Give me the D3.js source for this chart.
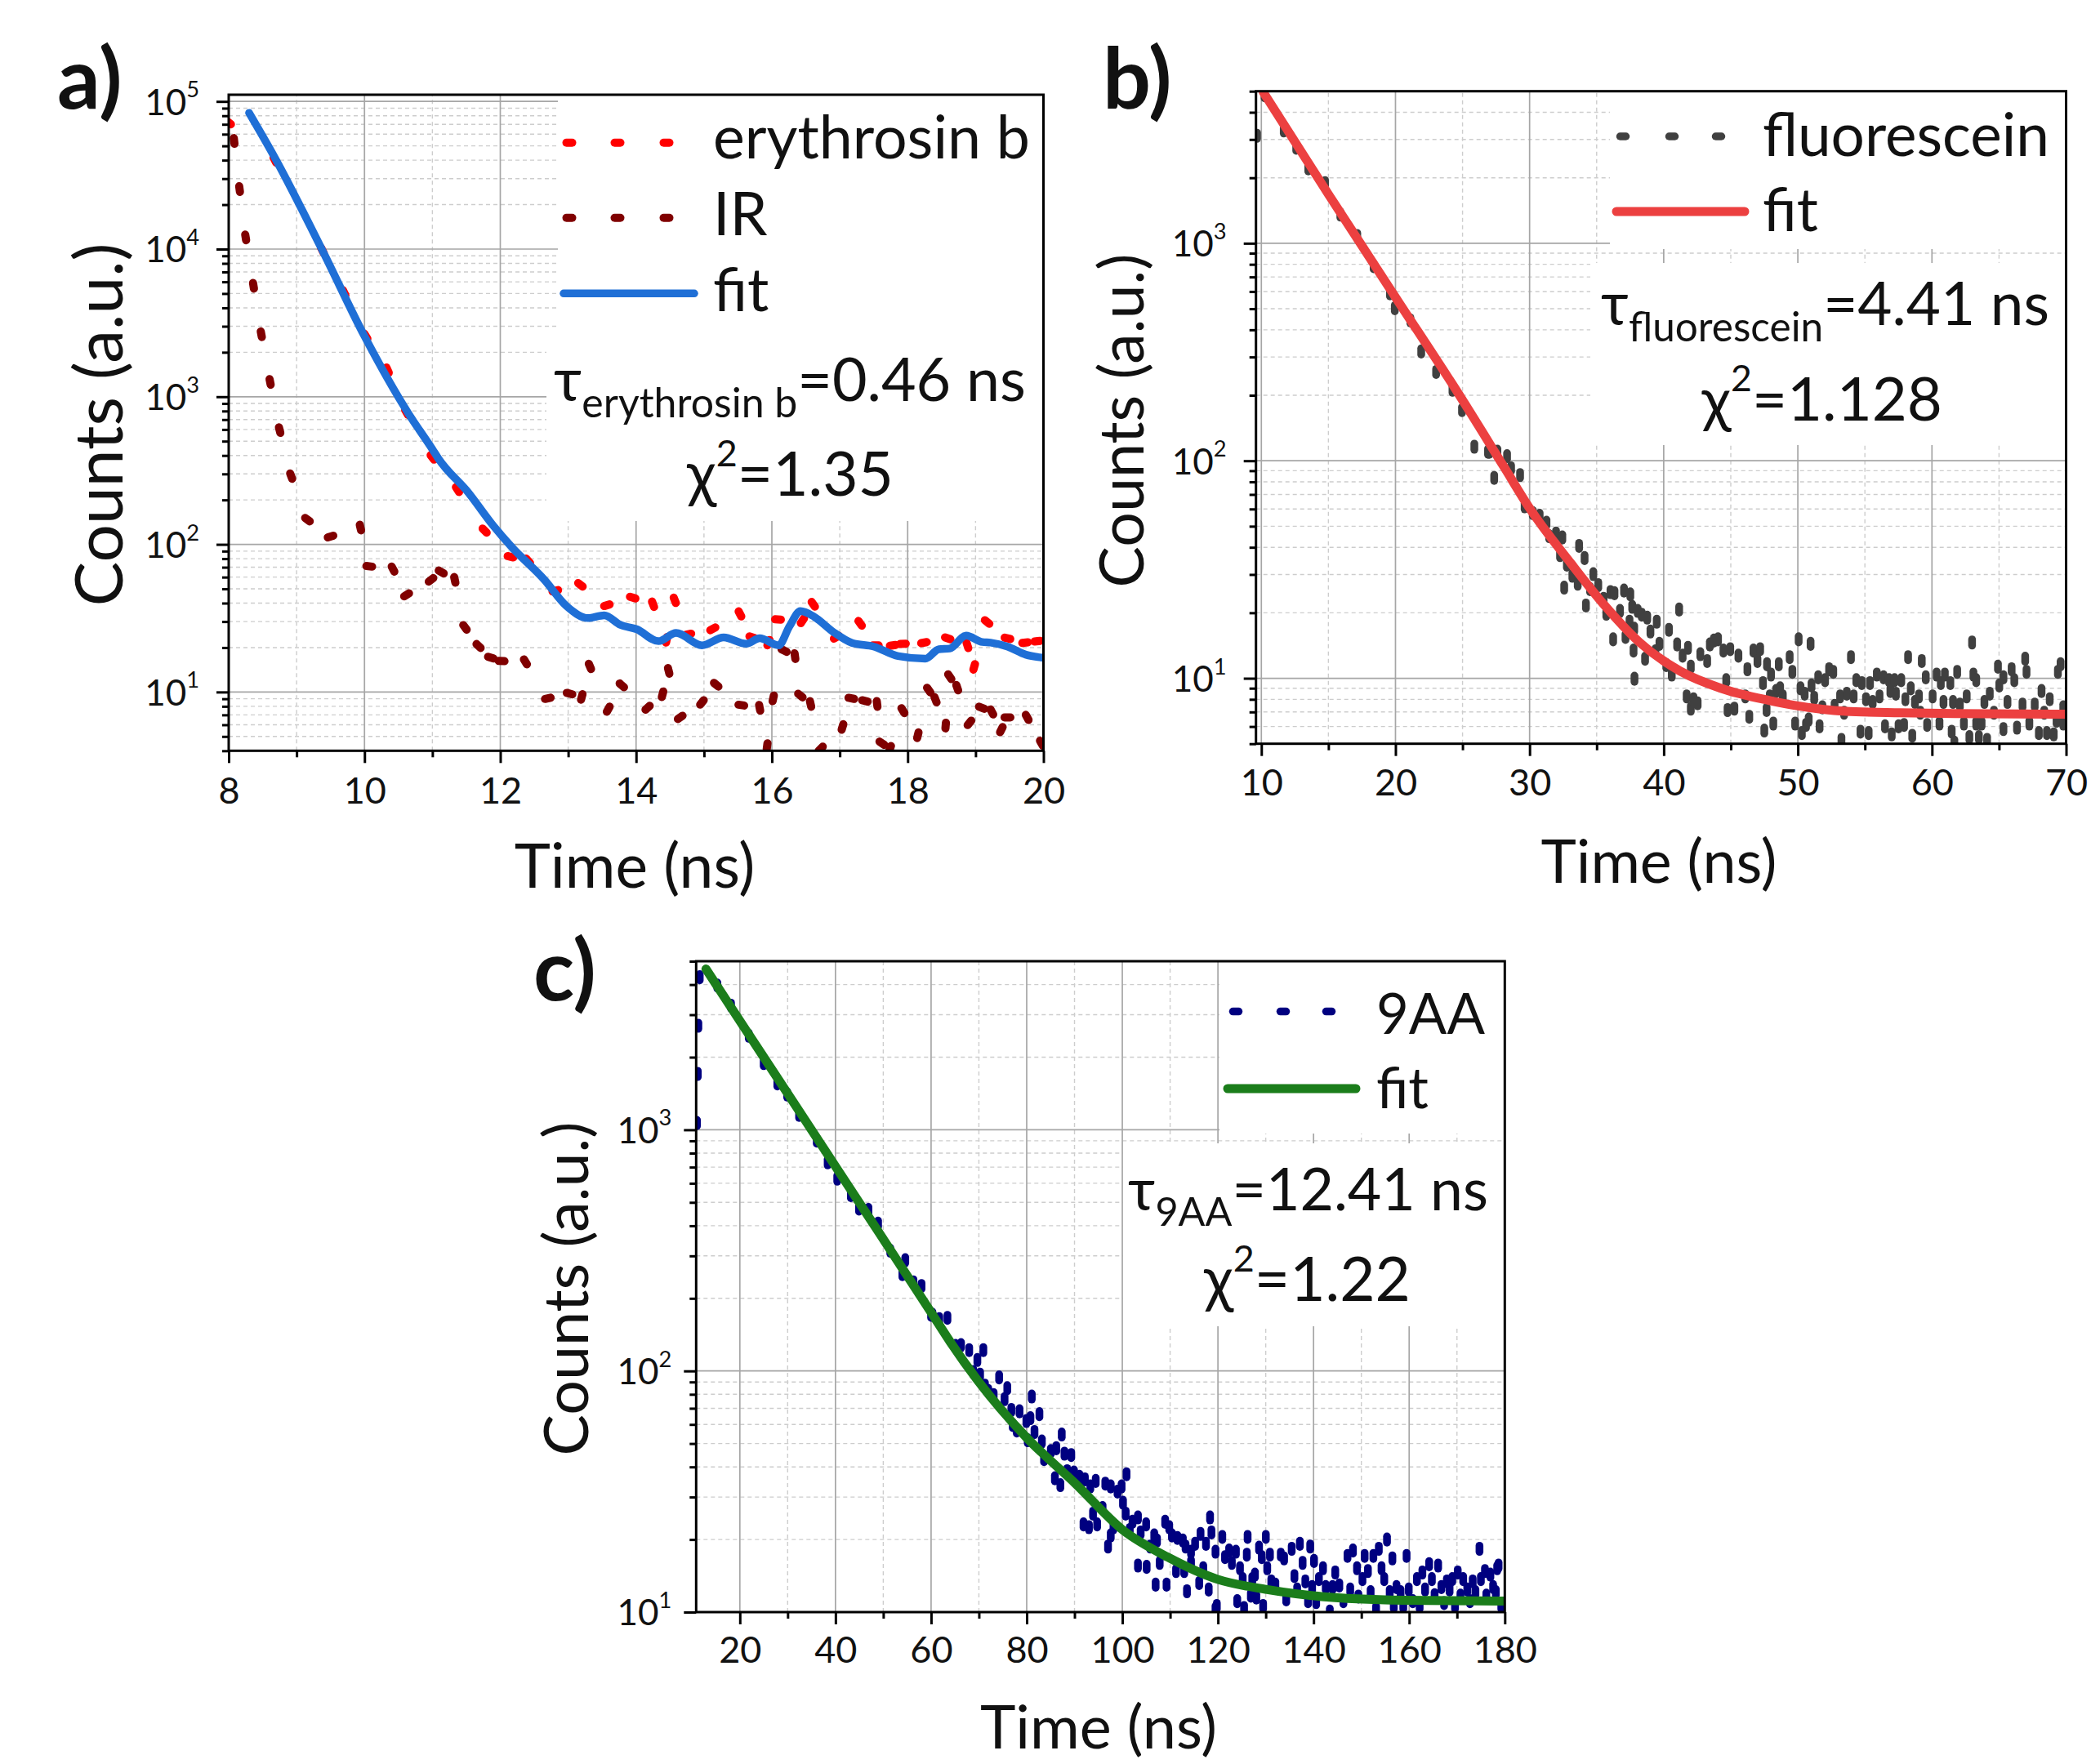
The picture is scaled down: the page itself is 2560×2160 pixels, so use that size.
<!DOCTYPE html>
<html><head><meta charset="utf-8">
<script src="https://cdn.jsdelivr.net/npm/d3@7"></script>
<style>
html,body{margin:0;background:#fff;}
svg{display:block;background:#fff;}
text{font-family:Lato,"Noto Sans","DejaVu Sans",sans-serif;fill:#111;}
</style></head><body>
<svg id="chart" width="2560" height="2160"></svg>
<script>
// ===================== DATA =====================
// Panel a) erythrosin b, IR and fit  [time (ns), counts]
const erythrosinData = [[8.0,72000],[8.68,40000],[9.38,9800],[9.70,5070],[10.02,2570],[10.34,1515],[10.62,783],[11.0,388],[11.37,235],[11.77,124],[12.15,82.4],[12.41,77.4],[12.81,48.5],[13.18,53.2],[13.57,38.7],[13.95,43.6],[14.25,39.3],[14.45,22.6],[14.57,41.8],[14.77,24.6],[15.13,26.8],[15.53,33.8],[15.71,23.5],[15.95,21.6],[16.09,31.0],[16.45,30.4],[16.61,39.3],[16.95,23.5],[17.30,29.2],[17.53,20.7],[17.78,20.7],[17.93,21.2],[18.24,21.6],[18.59,23.1],[18.88,20.7],[18.98,14.8],[19.17,29.8],[19.47,23.1],[19.73,21.6],[19.91,22.1]];
const irData = [[8.08,54000],[8.16,25500],[8.25,12000],[8.365,5640],[8.48,2650],[8.61,1260],[8.75,594],[8.92,290],[9.16,147],[9.50,113],[9.94,130],[10.07,71],[10.42,68],[10.62,45.5],[10.98,57.5],[11.13,65],[11.33,57.5],[11.48,27.4],[11.68,20.5],[11.86,17.1],[12.02,16.2],[12.37,16.0],[12.70,9.06],[13.02,9.75],[13.20,9.26],[13.32,14.9],[13.59,7.65],[13.79,11.1],[14.17,7.82],[14.39,9.66],[14.48,13.9],[14.65,6.73],[14.97,8.5],[15.18,11.2],[15.55,8.15],[15.82,7.82],[15.93,4.3],[16.02,9.06],[16.18,19.1],[16.34,17.5],[16.42,9.46],[16.57,8.3],[16.72,4.13],[17.04,5.8],[17.17,9.06],[17.37,8.7],[17.55,8.3],[17.62,4.5],[17.74,4.13],[17.93,7.48],[18.15,5.1],[18.31,10.3],[18.41,8.87],[18.56,5.93],[18.62,12.7],[18.73,10.7],[18.91,6.18],[19.09,7.82],[19.24,7.33],[19.38,5.56],[19.47,6.73],[19.76,6.73],[19.97,4.5]];
const fitAData = [[8.30,83700],[8.68,41500],[9.38,9800],[10.0,2570],[10.65,766],[11.0,441],[11.09,380],[11.53,224],[11.89,135],[12.17,95.7],[12.65,57.5],[12.97,38.4],[13.29,31.7],[13.53,33.1],[13.77,28.5],[14.01,26.6],[14.33,22.1],[14.59,25.1],[14.97,20.7],[15.29,23.4],[15.62,21.2],[15.82,23.1],[16.10,20.7],[16.26,27.9],[16.42,35.3],[16.62,32.4],[16.90,25.6],[17.18,21.5],[17.50,20.3],[17.86,17.5],[18.26,16.8],[18.46,19.5],[18.62,19.7],[18.86,24.1],[19.10,21.8],[19.22,21.6],[19.47,20.3],[19.74,17.9],[19.98,17.1]];

// Panel b) fluorescein and fit
const fluoresceinData = [[9.68,3120],[10.24,4790],[11.67,3300],[12.6,2750],[13.5,2210],[14.75,1890],[15.89,1355],[17.15,1080],[18.37,785],[19.59,589],[19.95,503],[21.11,442],[21.92,318],[23.03,256],[24.25,212],[24.96,171],[25.88,116],[26.9,110],[27.0,110],[27.36,83.4],[27.6,110],[28.32,105],[28.62,92.3],[29.29,85.9],[29.63,61.7],[30.24,57.4],[30.75,55.8],[31.26,51.9],[31.46,45.0],[31.97,46.3],[32.27,36.8],[32.44,44.4],[32.58,26.1],[32.78,33.3],[33.19,29.6],[33.59,27.2],[33.69,40.6],[34.10,35.7],[34.20,21.6],[34.51,25.7],[34.75,30.1],[35.12,26.8],[35.52,23.2],[35.72,19.8],[36.03,24.9],[36.23,15.1],[36.33,24.6],[36.74,20.4],[37.04,25.3],[37.15,15.5],[37.45,18.2],[37.51,24.3],[37.65,21.3],[37.75,13.4],[37.80,16.9],[37.82,9.95],[38.06,20.4],[38.36,19.6],[38.61,12.3],[38.77,19.0],[39.01,16.4],[39.38,13.3],[39.48,18.2],[39.68,14.4],[40.19,11.5],[40.39,16.7],[40.60,10.4],[41.00,14.3],[41.15,20.7],[41.41,12.7],[41.71,8.25],[41.81,13.8],[42.02,11.3],[42.02,7.25],[42.22,8.01],[42.53,7.67],[42.73,12.9],[43.24,12.0],[43.44,14.3],[43.74,14.9],[44.05,15.1],[44.45,13.4],[44.66,9.8],[44.76,7.14],[44.96,13.6],[45.27,7.25],[45.57,12.7],[46.08,8.25],[46.24,11.0],[46.38,6.65],[46.69,13.4],[46.99,12.0],[47.19,13.6],[47.40,9.5],[47.50,5.75],[47.67,7.15],[47.70,11.6],[47.91,8.25],[48.0,10.4],[48.17,6.19],[48.38,8.74],[48.58,11.6],[48.68,8.99],[48.88,8.25],[49.39,12.5],[49.59,10.7],[49.80,6.19],[50.06,15.1],[50.20,8.99],[50.30,5.6],[50.51,8.49],[50.61,6.1],[50.81,6.46],[50.95,14.4],[51.02,9.26],[51.22,8.13],[51.52,10.1],[51.62,6.01],[51.83,7.35],[52.03,9.8],[52.33,11.0],[52.64,10.7],[52.74,7.46],[53.15,8.25],[53.25,5.21],[53.45,6.94],[53.65,8.49],[53.96,12.5],[54.16,8.25],[54.36,9.8],[54.67,5.68],[54.77,9.5],[55.08,8.01],[55.28,5.6],[55.38,9.5],[55.58,7.78],[55.89,10.4],[56.09,8.25],[56.39,10.1],[56.50,6.01],[56.80,9.8],[56.90,8.74],[57.00,5.52],[57.21,9.8],[57.31,8.49],[57.51,6.01],[57.71,9.8],[57.92,6.1],[58.02,8.01],[58.22,12.5],[58.42,8.99],[58.53,5.44],[58.73,7.78],[59.03,8.25],[59.13,6.94],[59.24,12.0],[59.54,10.1],[59.64,6.1],[60.05,8.25],[60.35,10.4],[60.56,6.19],[60.66,9.5],[60.86,7.78],[60.96,10.4],[61.37,9.5],[61.47,5.68],[61.57,7.78],[61.67,5.06],[61.88,10.7],[62.08,7.57],[62.38,6.19],[62.59,8.25],[62.79,5.36],[62.99,14.6],[63.09,10.4],[63.30,9.8],[63.30,6.19],[63.50,5.36],[63.70,6.19],[63.91,7.78],[64.11,5.21],[64.31,8.49],[64.62,6.94],[64.92,11.3],[65.02,9.26],[65.33,10.1],[65.33,5.84],[65.63,7.78],[65.94,11.0],[66.14,9.8],[66.34,5.93],[66.75,7.57],[66.95,12.3],[67.05,10.7],[67.26,6.19],[67.66,7.57],[67.97,5.6],[68.17,8.74],[68.37,6.94],[68.57,5.6],[68.78,8.01],[69.08,5.52],[69.29,6.37],[69.39,10.7],[69.59,11.6],[69.79,7.35],[69.79,6.19]];
const fitBData = [[10.15,4940],[15,1680],[20,565],[25,190],[28.1,93.5],[30.04,60],[33.09,33.7],[35.52,21.9],[38.16,14.7],[41.21,10.8],[44.25,9.0],[47.9,7.9],[50,7.46],[53.55,7.05],[57.61,6.94],[61.67,6.88],[69.79,6.84],[70,6.84]];

// Panel c) 9AA and fit
const aaData = [[11.03,1067],[11.2,1705],[11.32,2700],[11.61,4290],[15.3,3960],[18.15,3270],[21.86,2455],[24.99,1890],[27.84,1557],[29.9,1400],[32.39,1153],[36.09,902],[38.37,733],[40.37,627],[43.22,536],[44.93,471],[46.9,465],[48.91,408],[51.47,315],[54.0,252],[54.6,288],[56.31,233],[58.0,225],[60.0,171],[60.28,171],[61.71,164],[63.42,166],[65.12,127],[66.26,128],[67.97,122],[68.82,99],[69.68,111],[70.25,96.5],[70.93,122],[71.27,86.9],[71.96,82.6],[73.09,79.4],[74.23,94],[75.37,76.4],[75.94,84.8],[76.79,68.9],[77.08,59.7],[77.93,56.6],[78.50,68],[79.93,62.0],[80.21,51.6],[80.78,63.7],[81.06,78.3],[81.63,55.8],[82.66,66.2],[83.17,51.0],[83.63,43.1],[85.05,46.5],[85.90,35.9],[86.19,47.8],[87.04,33.6],[87.33,54.5],[87.90,45.4],[88.47,38.4],[89.32,44.8],[89.89,37.9],[91.03,36.4],[91.88,23.1],[92.17,35.5],[93.02,22.5],[93.31,33.2],[93.87,25.6],[94.44,35.0],[94.73,23.1],[95.87,27.0],[96.44,34.1],[97.01,18.7],[97.58,33.2],[97.58,20.8],[98.15,22.5],[99.0,31.6],[99.85,33.2],[100.14,28.4],[100.71,25.6],[100.88,37.3],[101.56,21.9],[102.13,23.7],[103.27,24.7],[103.27,15.6],[103.84,21.4],[104.98,23.1],[105.09,15.4],[105.83,18.7],[106.68,20.8],[106.97,13.0],[107.25,19.8],[107.82,16.0],[108.96,23.7],[109.25,13.0],[109.81,22.5],[110.38,20.8],[111.24,14.8],[111.52,20.3],[112.66,19.8],[112.95,14.8],[113.23,18.7],[113.52,12.2],[114.37,17.8],[114.37,16.0],[115.22,19.2],[116.08,13.2],[116.36,21.1],[116.93,15.2],[117.50,19.2],[118.07,12.4],[118.35,24.7],[118.64,21.4],[119.49,10.3],[119.49,17.8],[119.77,10.6],[120.91,20.5],[121.48,16.9],[122.34,18.0],[122.91,16.0],[123.76,17.8],[124.04,11.1],[124.61,15.2],[125.18,13.7],[125.47,10.4],[126.04,17.3],[126.21,20.5],[126.89,11.7],[127.18,13.7],[127.74,14.3],[128.03,11.5],[128.6,18.5],[129.17,16.9],[129.45,10.6],[130.02,20.5],[130.31,15.2],[130.88,17.3],[131.16,13.4],[132.01,13.0],[133.15,17.3],[133.84,16.7],[134.29,11.3],[135.43,18.3],[136.0,14.1],[136.57,12.4],[137.14,19.2],[137.71,16.0],[138.28,13.4],[138.85,11.1],[139.30,18.7],[139.70,12.7],[140.10,16.3],[140.55,11.0],[141.12,13.7],[141.98,15.2],[142.55,12.7],[143.40,10.05],[143.97,12.7],[144.54,14.6],[145.39,12.9],[146.25,11.1],[147.10,17.1],[147.67,12.4],[148.24,18.0],[149.09,15.2],[149.38,11.6],[150.23,13.7],[150.69,17.1],[151.37,14.8],[151.94,12.1],[152.51,17.1],[153.08,10.3],[153.65,18.3],[154.22,15.2],[154.79,13.7],[155.36,20.0],[155.93,12.1],[156.49,16.7],[156.78,10.6],[157.35,12.7],[158.20,12.1],[158.77,10.6],[159.46,17.1],[159.91,12.4],[160.76,11.1],[161.62,13.7],[162.19,10.6],[162.76,14.6],[163.33,12.4],[164.18,15.8],[164.75,13.7],[165.32,11.75],[166.06,15.6],[166.74,12.7],[167.31,10.9],[167.88,13.4],[168.45,12.4],[169.02,13.7],[169.59,10.6],[170.16,14.6],[170.73,11.7],[171.30,13.7],[172.15,12.4],[172.72,11.1],[173.29,13.4],[173.86,12.1],[174.71,18.3],[175.0,13.7],[175.85,14.8],[176.14,11.7],[176.99,14.3],[177.56,12.7],[178.13,12.1],[178.41,15.2],[178.70,15.6],[179.27,10.6]];
const fitCData = [[12.91,4640],[20,2830],[30,1413],[40,705],[50,352],[60,175],[64.0,132],[69.7,91.6],[79.9,53.1],[90.2,34.1],[100.1,21.9],[109.5,16.9],[119.8,13.7],[130.3,12.4],[141.7,11.6],[158.8,11.2],[180,11.1]];

// Tick values
const xTicksA = [8,10,12,14,16,18,20];
const xMinorA = [9,11,13,15,17,19];
const yTicksA = [10,100,1000,10000,100000];
const xTicksB = [10,20,30,40,50,60,70];
const xMinorB = [15,25,35,45,55,65];
const yTicksB = [10,100,1000];
const xTicksC = [20,40,60,80,100,120,140,160,180];
const xMinorC = [30,50,70,90,110,130,150,170];
const yTicksC = [10,100,1000];

// Labels
const legendA = ["erythrosin b","IR","fit"];
const legendB = ["fluorescein","fit"];
const legendC = ["9AA","fit"];

// ===================== DRAWING =====================
const svg = d3.select("#chart");
svg.append("rect").attr("width",2560).attr("height",2160).attr("fill","#fff");

function minorLog(lo, hi) {
  const out = [];
  for (let e = Math.floor(Math.log10(lo)); e <= Math.ceil(Math.log10(hi)); e++) {
    for (let k = 2; k <= 9; k++) {
      const v = k * Math.pow(10, e);
      if (v >= lo * 0.999 && v <= hi * 1.001) out.push(v);
    }
  }
  return out;
}

function fitText(sel, target) {
  const w = sel.node().getComputedTextLength();
  const fs = parseFloat(sel.attr("font-size"));
  if (w > 0) sel.attr("font-size", fs * target / w);
  return fs * target / w;
}

function drawDashes(g, data, x, y, color, sw, half, mode) {
  const pts = data.map(d => [x(d[0]), y(d[1])]);
  g.selectAll(null).data(pts).join("line")
    .each(function(p, i) {
      let ux = 0, uy = 1;
      if (mode === "along") {
        let q0 = p, q1 = pts[i + 1];
        if (!q1) { q0 = pts[i - 1]; q1 = p; }
        const dx = q1[0] - q0[0], dy = q1[1] - q0[1];
        const L = Math.hypot(dx, dy) || 1;
        ux = dx / L; uy = dy / L;
      }
      d3.select(this)
        .attr("x1", p[0] - ux * half).attr("y1", p[1] - uy * half)
        .attr("x2", p[0] + ux * half).attr("y2", p[1] + uy * half);
    })
    .attr("stroke", color).attr("stroke-width", sw).attr("stroke-linecap", "round");
}

function drawPanel(cfg) {
  const g = svg.append("g");
  const x = d3.scaleLinear().domain(cfg.xDomain).range(cfg.xRange);
  const y = d3.scaleLog().domain(cfg.yDomain).range(cfg.yRange);
  const [x0, x1] = cfg.xRange, [yb, yt] = cfg.yRange;
  const clipId = "clip" + cfg.id;
  svg.append("clipPath").attr("id", clipId).append("rect")
    .attr("x", x0).attr("y", yt).attr("width", x1 - x0).attr("height", yb - yt);
  const yMinor = minorLog(cfg.yDomain[0], cfg.yDomain[1]);

  // grid
  const grid = g.append("g");
  grid.selectAll(null).data(cfg.xMinor).join("line")
    .attr("x1", d => x(d)).attr("x2", d => x(d)).attr("y1", yb).attr("y2", yt)
    .attr("stroke", "#cdcdcd").attr("stroke-width", 1.4).attr("stroke-dasharray", "5,4");
  grid.selectAll(null).data(yMinor).join("line")
    .attr("y1", d => y(d)).attr("y2", d => y(d)).attr("x1", x0).attr("x2", x1)
    .attr("stroke", "#cdcdcd").attr("stroke-width", 1.4).attr("stroke-dasharray", "5,4");
  grid.selectAll(null).data(cfg.xTicks).join("line")
    .attr("x1", d => x(d)).attr("x2", d => x(d)).attr("y1", yb).attr("y2", yt)
    .attr("stroke", "#a6a6a6").attr("stroke-width", 1.7);
  grid.selectAll(null).data(cfg.yTicks).join("line")
    .attr("y1", d => y(d)).attr("y2", d => y(d)).attr("x1", x0).attr("x2", x1)
    .attr("stroke", "#a6a6a6").attr("stroke-width", 1.7);

  // legend / annotation backgrounds
  g.selectAll(null).data(cfg.boxes).join("rect")
    .attr("x", b => b[0]).attr("y", b => b[1]).attr("width", b => b[2] - b[0]).attr("height", b => b[3] - b[1])
    .attr("fill", "#fff");

  // data
  const dg = g.append("g").attr("clip-path", `url(#${clipId})`);
  cfg.series.forEach(s => {
    if (s.type === "dots") {
      drawDashes(dg, s.data, x, y, s.color, s.sw, s.half, s.mode);
    } else {
      dg.append("path").datum(s.data)
        .attr("d", d3.line().x(d => x(d[0])).y(d => y(d[1])).curve(d3.curveMonotoneX))
        .attr("fill", "none").attr("stroke", s.color).attr("stroke-width", s.sw)
        .attr("stroke-linecap", "round").attr("stroke-linejoin", "round");
    }
  });

  // axes
  const ax = g.append("g").attr("transform", `translate(0,${yb})`)
    .call(d3.axisBottom(x).tickValues(cfg.xTicks).tickSize(15).tickSizeOuter(0).tickFormat(d3.format("d")));
  ax.select(".domain").remove();
  ax.selectAll(".tick line").attr("stroke", "#000").attr("stroke-width", 3);
  ax.selectAll(".tick text").attr("y", cfg.xLabelOffset).attr("dy", null)
    .attr("font-size", 45).attr("font-family", "Lato").attr("fill", "#111");
  const axm = g.append("g").attr("transform", `translate(0,${yb})`)
    .call(d3.axisBottom(x).tickValues(cfg.xMinor).tickSize(8).tickSizeOuter(0).tickFormat(""));
  axm.select(".domain").remove();
  axm.selectAll(".tick line").attr("stroke", "#000").attr("stroke-width", 3);

  const ay = g.append("g").attr("transform", `translate(${x0},0)`)
    .call(d3.axisLeft(y).tickValues(cfg.yTicks).tickSize(15).tickSizeOuter(0));
  ay.select(".domain").remove();
  ay.selectAll(".tick line").attr("stroke", "#000").attr("stroke-width", 3);
  ay.selectAll(".tick text").each(function(d) {
    const t = d3.select(this).text(null).attr("x", -cfg.yLabelGap).attr("dy", "0.36em")
      .attr("font-size", 44).attr("font-family", "Lato").attr("fill", "#111");
    t.append("tspan").text("10");
    t.append("tspan").attr("font-size", "0.62em").attr("dy", "-0.78em").text(String(Math.round(Math.log10(d))));
  });
  const aym = g.append("g").attr("transform", `translate(${x0},0)`)
    .call(d3.axisLeft(y).tickValues(yMinor).tickSize(8).tickSizeOuter(0).tickFormat(""));
  aym.select(".domain").remove();
  aym.selectAll(".tick line").attr("stroke", "#000").attr("stroke-width", 3);

  // frame
  g.append("rect").attr("x", x0).attr("y", yt).attr("width", x1 - x0).attr("height", yb - yt)
    .attr("fill", "none").attr("stroke", "#000").attr("stroke-width", 3);

  // legend
  const L = cfg.legend;
  let legendSize = null;
  L.items.forEach((it, i) => {
    if (it.type === "dots") {
      g.selectAll(null).data(L.dotX).join("line")
        .attr("x1", d => d - it.half).attr("x2", d => d + it.half)
        .attr("y1", it.y).attr("y2", it.y)
        .attr("stroke", it.color).attr("stroke-width", it.sw).attr("stroke-linecap", "round");
    } else {
      g.append("line").attr("x1", L.lineX[0]).attr("x2", L.lineX[1]).attr("y1", it.y).attr("y2", it.y)
        .attr("stroke", it.color).attr("stroke-width", it.sw).attr("stroke-linecap", "round");
    }
    const t = g.append("text").attr("x", L.textX).attr("y", it.base).attr("font-size", 70).text(it.label);
    if (i === 0) legendSize = fitText(t, L.firstWidth);
    else t.attr("font-size", legendSize);
  });

  // annotation: tau line
  const A = cfg.annot;
  const t1 = g.append("text").attr("x", A.x1).attr("y", A.b1).attr("font-size", 70);
  t1.append("tspan").text("τ");
  t1.append("tspan").attr("font-size", "0.68em").attr("dy", "0.4em").text(A.sub);
  t1.append("tspan").attr("dy", "-0.272em").text(A.tau);
  fitText(t1, A.w1);
  const t2 = g.append("text").attr("x", A.x2).attr("y", A.b2).attr("font-size", 70);
  t2.append("tspan").text("χ");
  t2.append("tspan").attr("font-size", "0.6em").attr("dy", "-0.8em").text("2");
  t2.append("tspan").attr("dy", "0.48em").text(A.chi);
  fitText(t2, A.w2);

  // axis titles
  const T = cfg.titles;
  const ty = g.append("text").attr("transform", `translate(${T.yx},${T.yy}) rotate(-90)`)
    .attr("text-anchor", "middle").attr("font-size", 80).text("Counts (a.u.)");
  fitText(ty, T.yw);
  const tx = g.append("text").attr("x", T.xx).attr("y", T.xy)
    .attr("text-anchor", "middle").attr("font-size", 76).text("Time (ns)");
  fitText(tx, T.xw);

  // panel label
  g.append("text").attr("x", cfg.label.x).attr("y", cfg.label.y).attr("font-size", 104)
    .attr("font-weight", "bold").text(cfg.label.text);
}

drawPanel({
  id: "A", xDomain: [8, 20], xRange: [280, 1277.5], yDomain: [4, 1.11e5], yRange: [919.3, 116],
  xTicks: xTicksA, xMinor: xMinorA, yTicks: yTicksA, xLabelOffset: 65, yLabelGap: 36,
  boxes: [[683, 116, 1277.5, 420], [669, 420, 1277.5, 638]],
  series: [
    {type: "dots", data: erythrosinData, color: "#ff0000", sw: 10, half: 3.5, mode: "along"},
    {type: "dots", data: irData, color: "#800000", sw: 10, half: 3.5, mode: "along"},
    {type: "line", data: fitAData, color: "#1f6fd6", sw: 9.5}
  ],
  legend: {dotX: [697, 756, 816], lineX: [690, 850], textX: 873, firstWidth: 388,
    items: [
      {type: "dots", color: "#ff0000", sw: 10, half: 3.5, y: 174.7, base: 194, label: legendA[0]},
      {type: "dots", color: "#800000", sw: 10, half: 3.5, y: 266.7, base: 288, label: legendA[1]},
      {type: "line", color: "#1f6fd6", sw: 9.5, y: 359.3, base: 381, label: legendA[2]}
    ]},
  annot: {x1: 678, b1: 491, w1: 578, sub: "erythrosin b", tau: "=0.46 ns", x2: 841, b2: 607, w2: 253, chi: "=1.35"},
  titles: {yx: 150, yy: 520, yw: 445, xx: 777, xy: 1087, xw: 294.5},
  label: {x: 70, y: 133, text: "a)"}
});

drawPanel({
  id: "B", xDomain: [9.6, 70], xRange: [1537.7, 2529.5], yDomain: [5, 5000], yRange: [910.7, 111.7],
  xTicks: xTicksB, xMinor: xMinorB, yTicks: yTicksB, xLabelOffset: 63, yLabelGap: 36,
  boxes: [[1971, 111.7, 2529.5, 305], [1947, 322, 2529.5, 545]],
  series: [
    {type: "dots", data: fluoresceinData, color: "#404040", sw: 9.5, half: 3.8, mode: "vertical"},
    {type: "line", data: fitBData, color: "#ec4040", sw: 11}
  ],
  legend: {dotX: [1987, 2047, 2104], lineX: [1979, 2136], textX: 2158, firstWidth: 351,
    items: [
      {type: "dots", color: "#404040", sw: 9.5, half: 3.5, y: 167, base: 190.6, label: legendB[0]},
      {type: "line", color: "#ec4040", sw: 11, y: 259, base: 283, label: legendB[1]}
    ]},
  annot: {x1: 1960, b1: 398, w1: 549, sub: "fluorescein", tau: "=4.41 ns", x2: 2083.5, b2: 515, w2: 294.5, chi: "=1.128"},
  titles: {yx: 1400, yy: 515, yw: 409, xx: 2031, xy: 1081, xw: 289},
  label: {x: 1350, y: 133, text: "b)"}
});

drawPanel({
  id: "C", xDomain: [10.86, 180], xRange: [852.3, 1842.3], yDomain: [10, 5000], yRange: [1974, 1177],
  xTicks: xTicksC, xMinor: xMinorC, yTicks: yTicksC, xLabelOffset: 62, yLabelGap: 30,
  boxes: [[1493, 1177, 1842.3, 1388], [1375, 1400, 1842.3, 1624]],
  series: [
    {type: "dots", data: aaData, color: "#000080", sw: 9.5, half: 3.8, mode: "vertical"},
    {type: "line", data: fitCData, color: "#1b7d1b", sw: 11}
  ],
  legend: {dotX: [1513, 1571, 1627], lineX: [1503, 1660], textX: 1685, firstWidth: 133,
    items: [
      {type: "dots", color: "#000080", sw: 9.5, half: 3.5, y: 1238.6, base: 1265.6, label: legendC[0]},
      {type: "line", color: "#1b7d1b", sw: 11, y: 1333, base: 1357, label: legendC[1]}
    ]},
  annot: {x1: 1381, b1: 1482, w1: 441, sub: "9AA", tau: "=12.41 ns", x2: 1474, b2: 1593, w2: 253, chi: "=1.22"},
  titles: {yx: 720, yy: 1578, yw: 409, xx: 1345, xy: 2141, xw: 290},
  label: {x: 653, y: 1225, text: "c)"}
});
</script>
</body></html>
